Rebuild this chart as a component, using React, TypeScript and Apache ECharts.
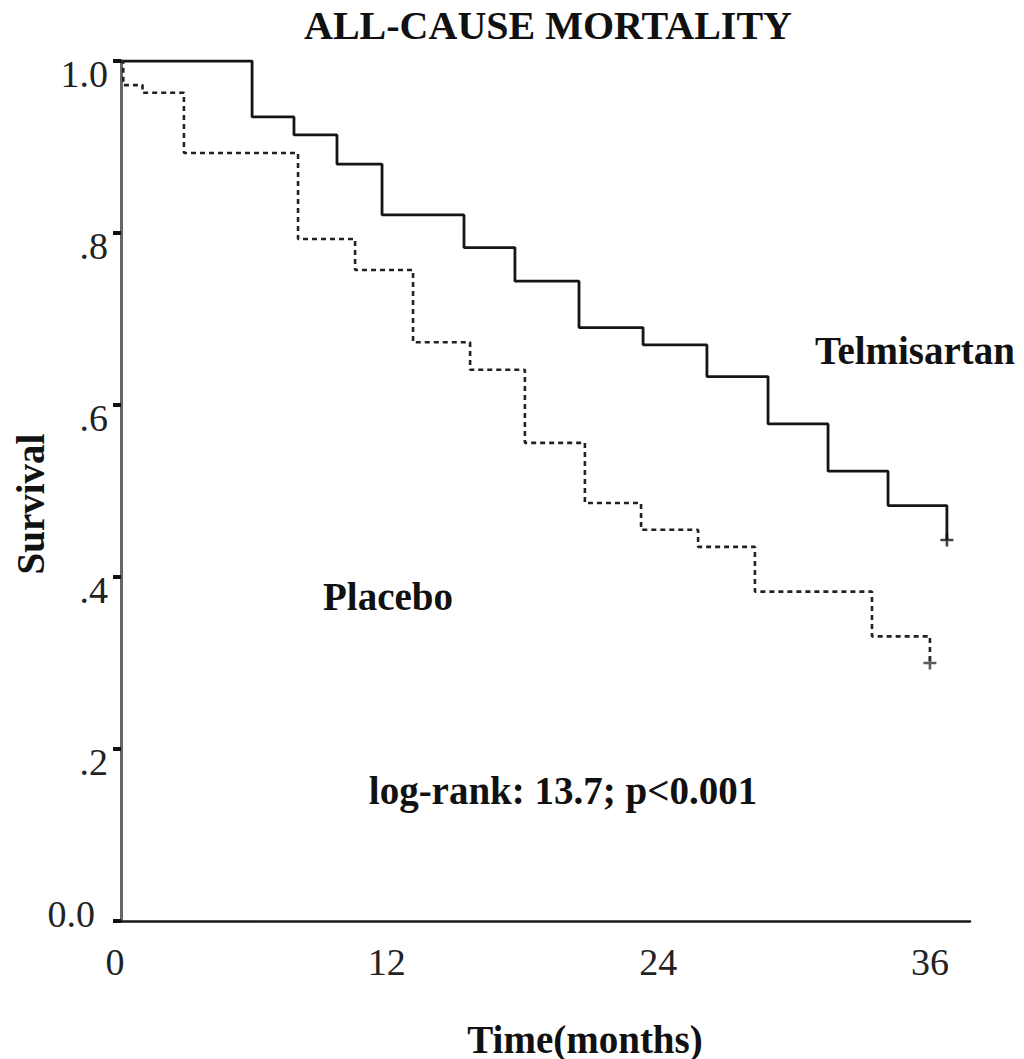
import React, { useEffect, useRef } from "react";
import * as echarts from "echarts";

// Telmisartan (solid) Kaplan-Meier steps
const telmiTimes = [0, 5.79, 7.64, 9.54, 11.53, 15.15, 17.4, 20.23, 23.06, 25.88, 28.58, 31.23, 33.88, 36.48];
const telmiSurv = [1.0, 0.935, 0.914, 0.88, 0.821, 0.783, 0.744, 0.69, 0.67, 0.633, 0.578, 0.523, 0.483, 0.443];
const telmiCensor = [[36.48, 0.443]];

// Placebo (dashed) Kaplan-Meier steps
const placeboTimes = [0, 0.1, 0.95, 2.78, 7.82, 10.34, 12.9, 15.42, 17.84, 20.49, 22.97, 25.49, 28.0, 33.17, 35.73];
const placeboSurv = [1.0, 0.972, 0.963, 0.893, 0.793, 0.757, 0.673, 0.641, 0.556, 0.486, 0.455, 0.435, 0.383, 0.331, 0.3];
const placeboCensor = [[35.73, 0.3]];

const xTicks = [0, 12, 24, 36];
const yTickLabels: Record<string, string> = { "0": "0.0", "0.2": ".2", "0.4": ".4", "0.6": ".6", "0.8": ".8", "1": "1.0" };

const TITLE = "ALL-CAUSE MORTALITY";
const Y_NAME = "Survival";
const X_NAME = "Time(months)";
const LABEL_TELMI = "Telmisartan";
const LABEL_PLACEBO = "Placebo";
const STAT_TEXT = "log-rank: 13.7; p<0.001";

const FONT = "'Liberation Serif', 'Times New Roman', serif";
const PLUS = "path://M-1.2,-6 L1.2,-6 L1.2,-1.2 L6,-1.2 L6,1.2 L1.2,1.2 L1.2,6 L-1.2,6 L-1.2,1.2 L-6,1.2 L-6,-1.2 L-1.2,-1.2 Z";

export default function App() {
  const ref = useRef<HTMLDivElement>(null);
  useEffect(() => {
    if (!ref.current) return;
    const chart = echarts.init(ref.current, undefined, { renderer: "svg" });
    const zip = (t: number[], s: number[]) => t.map((v, i) => [v, s[i]]);
    const textStyle = (text: string, size: number) => ({
      text,
      font: `bold ${size}px ${FONT}`,
      fill: "#111",
      textAlign: "center",
      textVerticalAlign: "middle",
    });
    chart.setOption({
      animation: false,
      backgroundColor: "#fff",
      grid: { left: 121, top: 61, right: 54, bottom: 138, containLabel: false },
      xAxis: {
        type: "value",
        min: 0,
        max: 37.5,
        interval: 12,
        axisLine: { show: true, lineStyle: { color: "#1a1a1a", width: 2.5 } },
        axisTick: { show: false },
        splitLine: { show: false },
        axisLabel: {
          show: true,
          margin: 22,
          showMaxLabel: false,
          formatter: (v: number) => (xTicks.includes(v) ? `{x|${v}}` : ""),
          rich: {
            x: { fontFamily: FONT, fontSize: 38, color: "#222", padding: [0, 12, 0, 0] },
          },
        },
      },
      yAxis: {
        type: "value",
        min: 0,
        max: 1,
        interval: 0.2,
        axisLine: { show: true, lineStyle: { color: "#666", width: 3 } },
        axisTick: { show: true, length: 8, lineStyle: { color: "#111", width: 4 } },
        splitLine: { show: false },
        axisLabel: {
          margin: 13,
          formatter: (v: number) => {
            const key = String(Math.round(v * 10) / 10);
            const t = yTickLabels[key] ?? "";
            return v === 0 ? `{z|${t}}` : `{n|${t}}`;
          },
          rich: {
            n: { fontFamily: FONT, fontSize: 38, color: "#222", padding: [26, 0, 0, 0] },
            z: { fontFamily: FONT, fontSize: 38, color: "#222", padding: [0, 13, 14, 0] },
          },
        },
      },
      series: [
        {
          name: LABEL_TELMI,
          type: "line",
          step: "end",
          data: zip(telmiTimes, telmiSurv),
          showSymbol: false,
          symbol: "none",
          lineStyle: { color: "#151515", width: 2.8, type: "solid" },
          z: 3,
        },
        {
          name: LABEL_PLACEBO,
          type: "line",
          step: "end",
          data: zip(placeboTimes, placeboSurv),
          showSymbol: false,
          symbol: "none",
          lineStyle: { color: "#222", width: 2.6, type: [5, 4] },
          z: 3,
        },
        {
          name: LABEL_TELMI + " censored",
          type: "scatter",
          data: telmiCensor,
          symbol: PLUS,
          symbolSize: 13,
          itemStyle: { color: "#111" },
          z: 4,
        },
        {
          name: LABEL_PLACEBO + " censored",
          type: "scatter",
          data: placeboCensor,
          symbol: PLUS,
          symbolSize: 13,
          itemStyle: { color: "#333" },
          z: 4,
        },
      ],
      graphic: [
        { type: "text", x: 548, y: 25, style: textStyle(TITLE, 40) },
        { type: "text", x: 915, y: 350, style: textStyle(LABEL_TELMI, 39) },
        { type: "text", x: 388, y: 596, style: textStyle(LABEL_PLACEBO, 39) },
        { type: "text", x: 563, y: 790, style: textStyle(STAT_TEXT, 39) },
        { type: "text", x: 585, y: 1039, style: textStyle(X_NAME, 39) },
        { type: "text", x: 30, y: 504, rotation: Math.PI / 2, style: textStyle(Y_NAME, 39) },
      ],
    });
    return () => chart.dispose();
  }, []);
  return (
    <div
      ref={ref}
      style={{ position: "fixed", left: 0, top: 0, width: 1024, height: 1059, background: "#fff" }}
    />
  );
}
